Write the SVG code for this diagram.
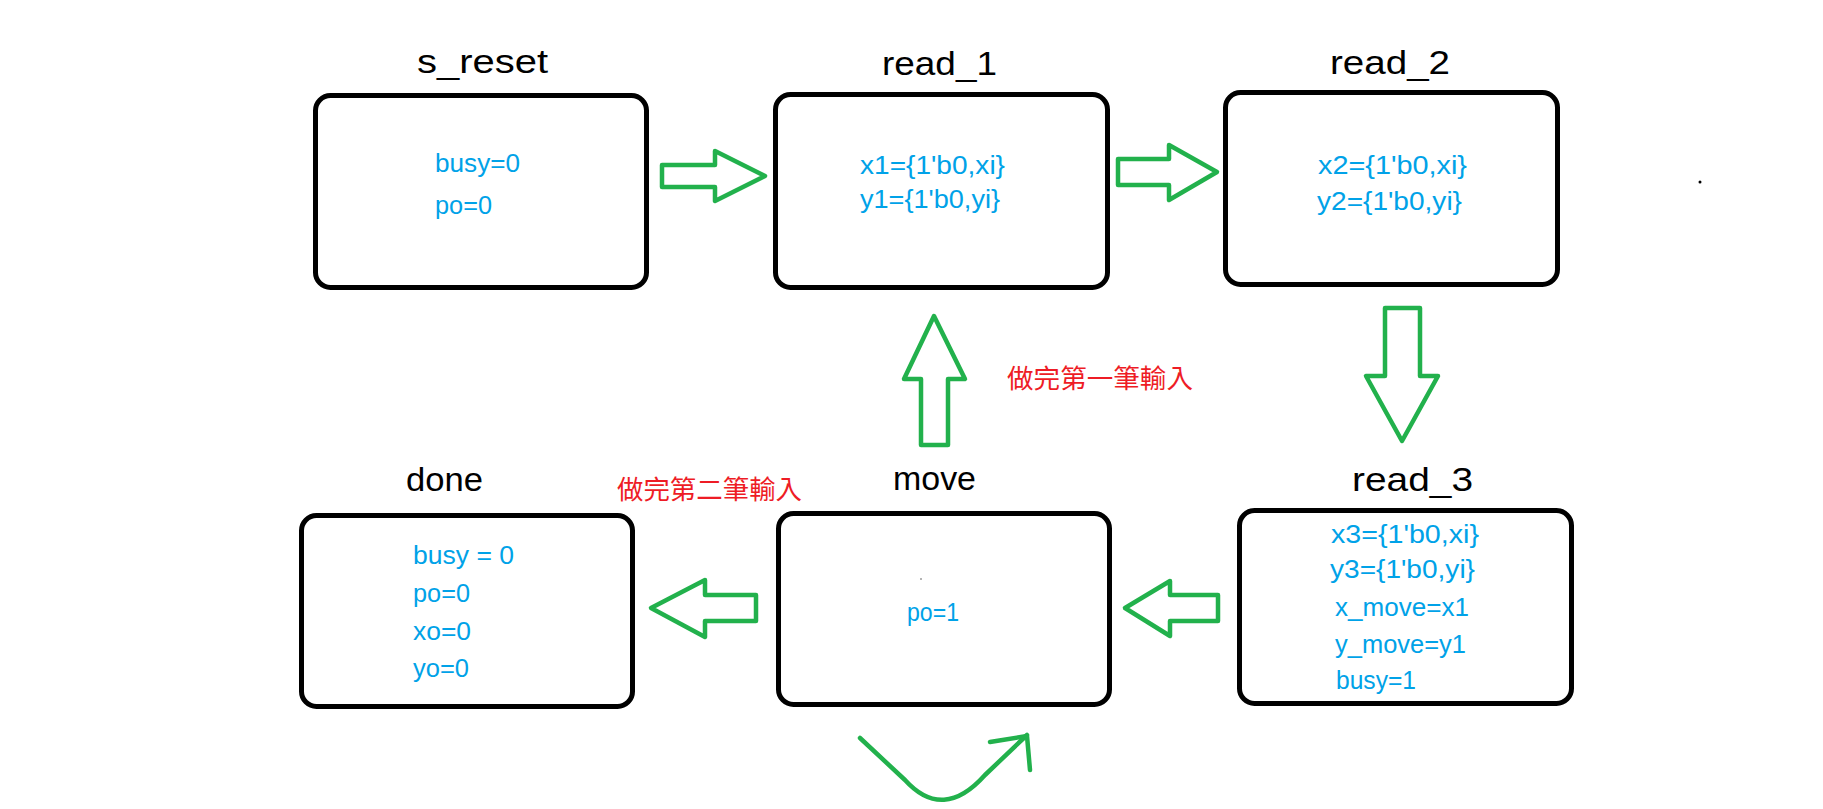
<svg xmlns="http://www.w3.org/2000/svg" width="1823" height="809" viewBox="0 0 1823 809">
<style>
.box{fill:#fff;stroke:#000;stroke-width:5}
.title{font-family:"Liberation Sans","DejaVu Sans",sans-serif;font-size:33px;fill:#000}
.body{font-family:"Liberation Sans","DejaVu Sans",sans-serif;font-size:26px;fill:#00a2e8}
.note{font-family:"Noto Sans CJK TC","Noto Sans CJK SC",sans-serif;font-size:26px;fill:#ee1c25}
.arr{fill:none;stroke:#22b14c;stroke-width:4.5;stroke-linejoin:round;stroke-linecap:round}
</style>
<rect width="1823" height="809" fill="#fff"/>
<g id="connectors">
<polygon class="arr" points="662,165 715,165 715,151 765,176 715,201 715,187 662,187"/>
<polygon class="arr" points="1118,159 1169,159 1169,145 1217,172 1169,200 1169,185 1118,185"/>
<polygon class="arr" points="1385,308 1420,308 1420,376 1438,376 1402,441 1366,376 1385,376"/>
<polygon class="arr" points="1218,595 1170,595 1170,581 1125,608 1170,636 1170,621 1218,621"/>
<polygon class="arr" points="756,595 705,595 705,580 651,608 705,637 705,621 756,621"/>
<polygon class="arr" points="921,445 921,379 904,379 934,316 965,379 948,379 948,445"/>
<path class="arr" d="M860,738 L905,780 Q943,822 985,775 L1027,735"/>
<path class="arr" d="M990,742 L1027,736 L1030,770"/>
</g>
<g id="s_reset">
<rect class="box" x="315.5" y="95.5" width="331" height="192" rx="15"/>
<text class="title" x="417" y="73" textLength="131" lengthAdjust="spacingAndGlyphs">s_reset</text>
<text class="body" x="435" y="172" textLength="85" lengthAdjust="spacingAndGlyphs">busy=0</text>
<text class="body" x="435" y="214" textLength="57" lengthAdjust="spacingAndGlyphs">po=0</text>
</g>
<g id="read_1">
<rect class="box" x="775.5" y="94.5" width="332" height="193" rx="15"/>
<text class="title" x="882" y="75" textLength="115" lengthAdjust="spacingAndGlyphs">read_1</text>
<text class="body" x="860" y="174" textLength="145" lengthAdjust="spacingAndGlyphs">x1={1'b0,xi}</text>
<text class="body" x="860" y="208" textLength="140" lengthAdjust="spacingAndGlyphs">y1={1'b0,yi}</text>
</g>
<g id="read_2">
<rect class="box" x="1225.5" y="92.5" width="332" height="192" rx="15"/>
<text class="title" x="1330" y="74" textLength="120" lengthAdjust="spacingAndGlyphs">read_2</text>
<text class="body" x="1318" y="174" textLength="149" lengthAdjust="spacingAndGlyphs">x2={1'b0,xi}</text>
<text class="body" x="1317" y="210" textLength="145" lengthAdjust="spacingAndGlyphs">y2={1'b0,yi}</text>
</g>
<circle cx="1700" cy="182" r="1.5" fill="#000"/>
<g id="read_3">
<rect class="box" x="1239.5" y="510.5" width="332" height="193" rx="15"/>
<text class="title" x="1352" y="491" textLength="121" lengthAdjust="spacingAndGlyphs">read_3</text>
<text class="body" x="1331" y="543" textLength="148" lengthAdjust="spacingAndGlyphs">x3={1'b0,xi}</text>
<text class="body" x="1330" y="578" textLength="145" lengthAdjust="spacingAndGlyphs">y3={1'b0,yi}</text>
<text class="body" x="1335" y="616" textLength="134" lengthAdjust="spacingAndGlyphs">x_move=x1</text>
<text class="body" x="1335" y="653" textLength="131" lengthAdjust="spacingAndGlyphs">y_move=y1</text>
<text class="body" x="1336" y="689" textLength="80" lengthAdjust="spacingAndGlyphs">busy=1</text>
</g>
<g id="move">
<rect class="box" x="778.5" y="513.5" width="331" height="191" rx="15"/>
<text class="title" x="893" y="490" textLength="83" lengthAdjust="spacingAndGlyphs">move</text>
<circle cx="921" cy="579" r="0.8" fill="#555"/>
<text class="body" x="907" y="621" textLength="52" lengthAdjust="spacingAndGlyphs">po=1</text>
</g>
<g id="done">
<rect class="box" x="301.5" y="515.5" width="331" height="191" rx="15"/>
<text class="title" x="406" y="491" textLength="77" lengthAdjust="spacingAndGlyphs">done</text>
<text class="body" x="413" y="564" textLength="101" lengthAdjust="spacingAndGlyphs">busy = 0</text>
<text class="body" x="413" y="602" textLength="57" lengthAdjust="spacingAndGlyphs">po=0</text>
<text class="body" x="413" y="640" textLength="58" lengthAdjust="spacingAndGlyphs">xo=0</text>
<text class="body" x="413" y="677" textLength="56" lengthAdjust="spacingAndGlyphs">yo=0</text>
</g>
<g id="labels">
<text class="note" x="1007" y="388" textLength="186" lengthAdjust="spacingAndGlyphs">做完第一筆輸入</text>
<text class="note" x="617" y="499" textLength="185" lengthAdjust="spacingAndGlyphs">做完第二筆輸入</text>
</g>
</svg>
